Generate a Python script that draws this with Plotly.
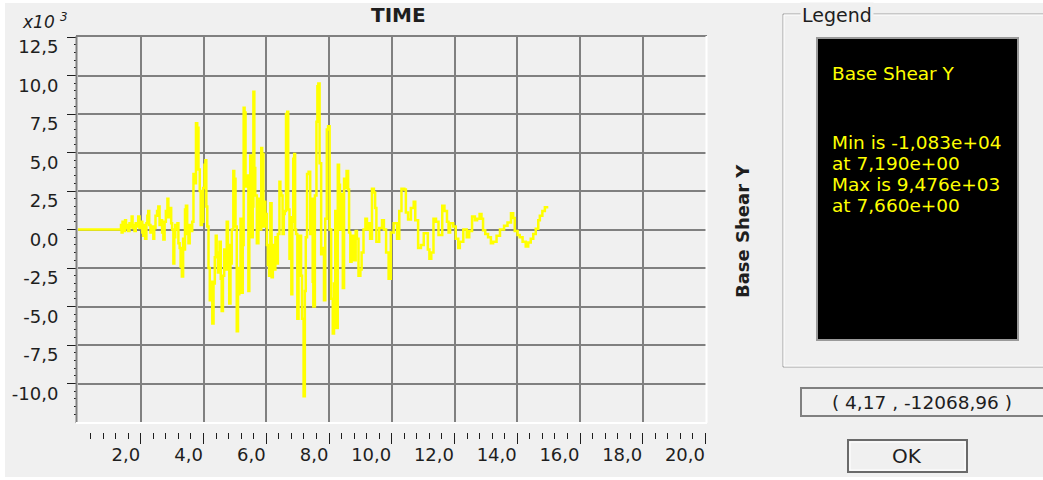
import plotly.graph_objects as go

W, H = 1043, 480

# Base shear time history (time in s, base shear in units of 10^3)
time_s = [
    0.00, 1.34, 1.37, 1.39, 1.42, 1.45, 1.50, 1.53, 1.56, 1.60, 1.64, 1.67, 1.71, 1.74, 1.77, 1.80,
    1.84, 1.88, 1.92, 1.96, 2.00, 2.05, 2.08, 2.11, 2.14, 2.18, 2.21, 2.24, 2.27, 2.31, 2.35, 2.40,
    2.43, 2.47, 2.52, 2.56, 2.60, 2.64, 2.68, 2.72, 2.76, 2.80, 2.85, 2.88, 2.92, 2.97, 3.00, 3.04,
    3.07, 3.10, 3.14, 3.17, 3.20, 3.24, 3.27, 3.31, 3.35, 3.38, 3.41, 3.44, 3.48, 3.52, 3.56, 3.60,
    3.64, 3.68, 3.72, 3.76, 3.80, 3.84, 3.88, 3.91, 3.95, 3.99, 4.03, 4.06, 4.09, 4.12, 4.16, 4.20,
    4.24, 4.28, 4.32, 4.36, 4.39, 4.42, 4.46, 4.49, 4.51, 4.55, 4.58, 4.62, 4.66, 4.70, 4.74, 4.78,
    4.82, 4.86, 4.90, 4.95, 4.98, 5.02, 5.06, 5.10, 5.14, 5.18, 5.22, 5.25, 5.28, 5.31, 5.34, 5.38,
    5.43, 5.46, 5.49, 5.52, 5.54, 5.57, 5.59, 5.62, 5.65, 5.70, 5.75, 5.80, 5.84, 5.87, 5.91, 5.94,
    5.97, 6.02, 6.05, 6.09, 6.13, 6.17, 6.21, 6.25, 6.29, 6.33, 6.37, 6.42, 6.45, 6.48, 6.52, 6.56,
    6.59, 6.63, 6.67, 6.70, 6.74, 6.77, 6.80, 6.83, 6.86, 6.89, 6.92, 6.95, 6.99, 7.03, 7.07, 7.11,
    7.14, 7.19, 7.23, 7.26, 7.30, 7.35, 7.40, 7.45, 7.48, 7.50, 7.55, 7.60, 7.63, 7.66, 7.70, 7.75,
    7.80, 7.84, 7.88, 7.93, 7.97, 8.02, 8.07, 8.12, 8.16, 8.20, 8.24, 8.28, 8.32, 8.35, 8.39, 8.44,
    8.48, 8.52, 8.56, 8.61, 8.64, 8.68, 8.72, 8.76, 8.80, 8.85, 8.89, 8.94, 9.00, 9.04, 9.10, 9.16,
    9.21, 9.26, 9.31, 9.37, 9.43, 9.47, 9.51, 9.60, 9.69, 9.75, 9.82, 9.90, 9.97, 10.06, 10.17, 10.24,
    10.31, 10.40, 10.45, 10.52, 10.61, 10.70, 10.75, 10.84, 10.93, 11.02, 11.15, 11.20, 11.26, 11.33,
    11.41, 11.49, 11.61, 11.68, 11.76, 11.81, 11.86, 11.96, 12.04, 12.12, 12.17, 12.28, 12.39, 12.47,
    12.56, 12.65, 12.72, 12.80, 12.86, 12.91, 12.98, 13.07, 13.16, 13.23, 13.34, 13.45, 13.58, 13.69,
    13.80, 13.87, 13.92, 14.01, 14.08, 14.17, 14.27, 14.35, 14.43, 14.51, 14.59, 14.67, 14.72, 14.80,
    14.88, 14.99,
]
base_shear_k = [
    0.0, 0.0, 0.3, -0.2, 0.5, -0.1, 0.6, 0.1, 0.3, -0.1, 0.4, 0.2, 0.85, 0.1, 0.3, -0.1,
    0.4, 0.2, 0.85, 0.1, 0.5, -0.2, -0.4, 0.3, -0.6, 0.4, 0.9, 1.2, 0.3, -0.2, 0.2, -0.6,
    0.1, 0.9, 1.2, 1.5, 0.3, 0.6, -0.2, -0.65, 0.5, 1.2, 2.0, 0.8, 1.4, 0.4, 0.0, -2.2,
    -0.5, 0.3, 0.0, 0.4, -0.9, -1.2, -2.4, -3.05, -0.6, -1.3, 1.3, 1.55, -0.3, -0.9, 0.3, -0.1,
    0.5, 3.6, 3.0, 6.9, 6.6, 3.9, 2.5, 0.3, 0.5, 2.7, 4.2, 4.5, 1.5, 0.2, -2.5, -4.6,
    -3.4, -6.1, -3.5, -1.8, -0.4, -1.5, -2.8, -1.9, -0.8, -3.2, -5.3, -3.0, -1.3, -2.6, 0.5, -1.0,
    -4.8, -2.2, 0.0, 3.8, 3.3, 0.2, -6.6, -4.2, -2.5, 0.7, -4.1, -1.0, 7.9, 7.6, 2.8, 3.5,
    -4.0, 0.2, 4.8, 2.0, -0.5, 1.5, 8.95, 4.0, 2.2, -0.9, 2.0, 0.0, 5.3, 4.9, 0.2, 1.8,
    1.0, -1.0, -2.3, -3.0, 1.7, -3.1, -1.0, -2.6, -0.5, -2.2, -0.3, 3.1, 2.4, 2.2, -0.3, 1.0,
    1.2, 7.5, 7.65, 1.3, -1.9, 0.8, -4.2, 0.5, 4.6, 4.9, 0.0, -0.3, -5.8, -1.5, -0.4, -3.0,
    -5.8, -10.83, -4.0, -0.5, 3.6, 3.75, -0.3, 2.0, -3.4, -5.0, 2.2, 7.0, 9.3, 9.476, 4.3, -1.6,
    -1.2, -4.6, 0.7, 6.5, 6.7, 0.0, -4.5, -6.75, -3.5, 1.2, -6.4, 4.2, 2.9, 0.0, 2.3, -3.8,
    3.3, 2.7, 3.8, 2.6, -0.2, -2.1, -1.2, -0.4, -2.0, -0.1, -0.6, -3.0, -2.6, -1.5, 0.0, 0.7,
    0.0, 0.4, -0.6, 2.65, 2.4, 1.4, -0.8, 0.1, 0.6, 0.0, -1.5, -3.2, -0.2, 0.4, -0.6, 1.2,
    2.65, 2.6, 1.1, 0.65, 1.4, 1.8, 0.6, -1.2, -1.0, -0.25, -1.3, -1.9, -1.5, 0.7,
    0.5, -0.35, 1.55, 1.2, 0.5, -0.2, 0.4, 0.2, -0.6, -1.2, -0.8, 0.0, -0.5, -0.1,
    0.85, 0.6, 0.7, 1.0, 0.7, -0.05, -0.3, -0.5, -0.9, -0.8, -0.4, 0.0, 0.25, 0.45,
    1.05, 0.75, -0.1, -0.35, -0.5, -0.8, -1.1, -0.85, -0.6, -0.3, 0.05, 0.6, 0.9, 1.2,
    1.45, 1.45,
]

y_tick_values = [12.5, 10.0, 7.5, 5.0, 2.5, 0.0, -2.5, -5.0, -7.5, -10.0]
y_tick_labels = ["12,5", "10,0", "7,5", "5,0", "2,5", "0,0", "-2,5", "-5,0", "-7,5", "-10,0"]
x_tick_values = [2, 4, 6, 8, 10, 12, 14, 16, 18, 20]
x_tick_labels = ["2,0", "4,0", "6,0", "8,0", "10,0", "12,0", "14,0", "16,0", "18,0", "20,0"]

series_name = "Base Shear Y"
cursor_readout = "( 4,17 , -12068,96 )"

FONT = "DejaVu Sans"
INK = "#1e1e1e"
PANEL = "#f0f0f0"


def fx(px):
    return px / W


def fy(py):
    return 1 - py / H


def sci(v):
    return f"{v:.3e}".replace(".", ",")


# extreme values for the legend panel
i_min = min(range(len(base_shear_k)), key=lambda i: base_shear_k[i])
i_max = max(range(len(base_shear_k)), key=lambda i: base_shear_k[i])
stats_lines = [
    f"Min is {sci(base_shear_k[i_min] * 1000)}",
    f"at {sci(time_s[i_min])}",
    f"Max is {sci(base_shear_k[i_max] * 1000)}",
    f"at {sci(time_s[i_max])}",
]

fig = go.Figure()
fig.add_trace(go.Scatter(
    x=time_s, y=base_shear_k, mode="lines",
    line=dict(color="#ffff00", width=2.5, shape="hv"), showlegend=False, hoverinfo="skip",
))

x_minor = [round(0.4 * k, 2) for k in range(1, 51) if k % 5]
y_minor = [round(-12.5 + 0.5 * k, 2) for k in range(51) if k % 5]

fig.update_layout(
    width=W, height=H, autosize=False,
    margin=dict(l=0, r=0, t=0, b=0, pad=0, autoexpand=False),
    paper_bgcolor="white", plot_bgcolor="black",
    font=dict(family=FONT, size=18, color=INK),
    xaxis=dict(
        domain=[fx(78), fx(705.5)], range=[0, 20], automargin=False,
        anchor="free", position=fy(432),
        tickmode="array", tickvals=x_tick_values, ticktext=x_tick_labels,
        ticks="outside", ticklen=11, tickwidth=1, tickcolor=INK,
        ticklabelposition="outside left", ticklabelstandoff=6,
        showgrid=True, gridcolor="#808080", gridwidth=2,
        zeroline=False, showline=False,
        minor=dict(tickmode="array", tickvals=x_minor, ticks="outside",
                   ticklen=6, tickwidth=1, tickcolor=INK, showgrid=False),
        tickfont=dict(family=FONT, size=18, color=INK),
    ),
    yaxis=dict(
        domain=[fy(422), fy(37)], range=[-12.5, 12.5], automargin=False,
        tickmode="array", tickvals=y_tick_values, ticktext=y_tick_labels,
        ticks="outside", ticklen=10, tickwidth=1, tickcolor=INK,
        ticklabelstandoff=5, ticklabelshift=10,
        showgrid=True, gridcolor="#808080", gridwidth=2,
        zeroline=False, showline=False,
        minor=dict(tickmode="array", tickvals=y_minor, ticks="outside",
                   ticklen=3, tickwidth=1, tickcolor=INK, showgrid=False),
        tickfont=dict(family=FONT, size=18, color=INK),
    ),
)

shapes = [
    # dialog panel
    dict(type="rect", xref="paper", yref="paper", x0=fx(5), x1=1, y0=fy(477), y1=fy(3),
         fillcolor=PANEL, line=dict(width=0), layer="below"),
    # sunken frame around the plot area
    dict(type="line", xref="paper", yref="paper", x0=fx(76.5), x1=fx(76.5), y0=fy(423), y1=fy(36),
         line=dict(color="#808080", width=2)),
    dict(type="line", xref="paper", yref="paper", x0=fx(76), x1=fx(707), y0=fy(36), y1=fy(36),
         line=dict(color="#808080", width=2)),
    dict(type="line", xref="paper", yref="paper", x0=fx(76), x1=fx(707), y0=fy(423), y1=fy(423),
         line=dict(color="white", width=2)),
    dict(type="line", xref="paper", yref="paper", x0=fx(706.5), x1=fx(706.5), y0=fy(423), y1=fy(36),
         line=dict(color="white", width=2)),
    # legend group box (etched)
    dict(type="rect", xref="paper", yref="paper", x0=fx(783), x1=fx(1060), y0=fy(367), y1=fy(14),
         line=dict(color="#a0a0a0", width=1)),
    dict(type="rect", xref="paper", yref="paper", x0=fx(784), x1=fx(1060), y0=fy(366), y1=fy(15),
         line=dict(color="white", width=1)),
    # legend black panel
    dict(type="rect", xref="paper", yref="paper", x0=fx(817), x1=fx(1018), y0=fy(340), y1=fy(38),
         fillcolor="black", line=dict(color="#9a9a9a", width=2)),
    # cursor readout field
    dict(type="rect", xref="paper", yref="paper", x0=fx(801), x1=fx(1050), y0=fy(416), y1=fy(388),
         fillcolor=PANEL, line=dict(color="#808080", width=2)),
    # OK button
    dict(type="rect", xref="paper", yref="paper", x0=fx(848), x1=fx(967), y0=fy(472), y1=fy(440),
         fillcolor=PANEL, line=dict(color="#6a6a6a", width=2)),
    dict(type="rect", xref="paper", yref="paper", x0=fx(850), x1=fx(965), y0=fy(470), y1=fy(442),
         line=dict(color="white", width=1)),
]
fig.update_layout(shapes=shapes)

annotations = [
    dict(text="<b>TIME</b>", x=fx(398), y=fy(15), font=dict(size=20)),
    dict(text="<i>x10 <sup>3</sup></i>", x=fx(20), y=fy(34), xanchor="left", yanchor="bottom",
         font=dict(size=17)),
    dict(text=f"<b>{series_name}</b>", x=fx(743), y=fy(231), textangle=-90,
         font=dict(size=18)),
    dict(text="Legend", x=fx(800), y=fy(15), xanchor="left", bgcolor=PANEL,
         font=dict(size=19)),
    dict(text=series_name, x=fx(830), y=fy(73), xanchor="left",
         font=dict(size=18.5, color="#ffff00")),
    dict(text=cursor_readout, x=fx(922), y=fy(402), font=dict(size=18.5)),
    dict(text="OK", x=fx(907), y=fy(456), font=dict(size=20)),
]
for k, line in enumerate(stats_lines):
    annotations.append(dict(text=line, x=fx(830), y=fy(142 + 21.3 * k), xanchor="left",
                            font=dict(size=18.5, color="#ffff00")))
for a in annotations:
    a.setdefault("xref", "paper")
    a.setdefault("yref", "paper")
    a.setdefault("showarrow", False)
    a.setdefault("xanchor", "center")
    a.setdefault("yanchor", "middle")
fig.update_layout(annotations=annotations)

fig.write_html("out.html")
